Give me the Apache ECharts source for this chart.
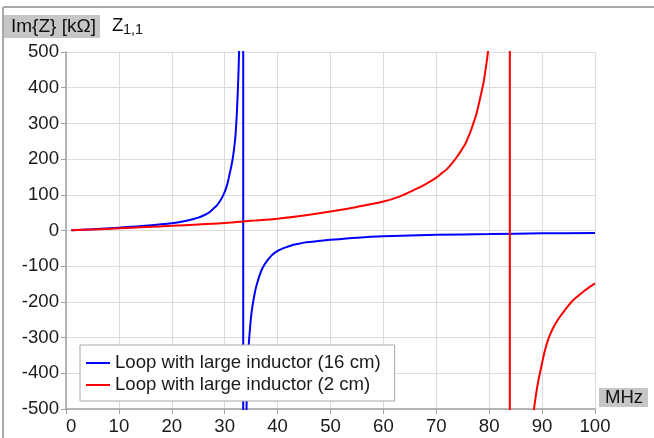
<!DOCTYPE html>
<html>
<head>
<meta charset="utf-8">
<script src="https://cdn.jsdelivr.net/npm/echarts@6/dist/echarts.min.js"></script>
<style>
  html, body { margin: 0; padding: 0; background: #fff; }
  #main { width: 654px; height: 438px; }
</style>
</head>
<body>
<div id="main"></div>
<script>
var FONT = "'Liberation Sans', Arial, sans-serif";
var FS = 18.6;

// 16 cm loop, below and above its resonance
var blueLowMHz = [1, 5, 10, 15, 20, 23, 25, 26, 27, 27.5, 28, 28.5, 29, 29.5, 30, 30.25, 30.5, 30.75, 31, 31.25, 31.5, 31.75, 32, 32.15, 32.3, 32.45, 32.6, 32.7, 32.8, 32.95, 33.1];
var blueLowIm = [0.5, 3.5, 8, 13, 20, 28, 36, 42, 50, 56, 63, 70, 80, 92, 108, 118, 130, 146, 163, 180, 200, 226, 260, 290, 330, 380, 440, 490, 545, 650, 900];
var blueHighMHz = [33.8, 34.1, 34.3, 34.5, 34.75, 35, 35.25, 35.5, 35.75, 36, 36.5, 37, 37.5, 38, 38.5, 39, 39.5, 40, 41, 42, 43, 44, 45, 46, 48, 50, 55, 60, 70, 80, 90, 100];
var blueHighIm = [-1000, -520, -400, -330, -280, -240, -212, -190, -170, -155, -130, -110, -96, -85, -76, -68, -62, -57, -50, -45, -40, -37, -34, -32, -29, -26, -20, -16, -12, -10, -8, -7];
var blueResMHz = 33.5;

// 2 cm loop, below and above its resonance
var redLowMHz = [1, 5, 10, 15, 20, 25, 30, 35, 40, 45, 50, 55, 60, 63, 66, 68, 70, 71, 72, 73, 74, 74.75, 75.5, 76, 76.5, 77, 77.5, 78, 78.5, 79, 79.3, 79.55, 79.8, 80.3];
var redLowIm = [0.5, 3, 6, 9.5, 13, 17, 21, 27, 33, 42, 53, 66, 81, 95, 115, 130, 148, 160, 172, 189, 208, 225, 243, 260, 278, 300, 322, 352, 385, 420, 450, 475, 505, 580];
var redHighMHz = [88, 88.25, 88.5, 88.75, 89, 89.3, 89.6, 89.9, 90.3, 90.65, 91, 91.5, 92, 92.7, 93.4, 94.2, 95, 95.5, 96, 97, 98, 99, 100];
var redHighIm = [-580, -538, -497, -470, -445, -420, -399, -378, -350, -330, -312, -292, -275, -257, -241, -225, -210, -201, -193, -181, -169, -158, -148];
var redResMHz = 83.9;

var seriesNames = ['Loop with large inductor (16 cm)', 'Loop with large inductor (2 cm)'];
var seriesColors = ['#0000ff', '#ff0000'];

function pairs(xs, ys) {
    var out = [];
    for (var i = 0; i < xs.length; i++) out.push([xs[i], ys[i]]);
    return out;
}

function branch(idx, data, smooth) {
    return {
        name: seriesNames[idx], type: 'line', symbol: 'none', clip: true,
        smooth: smooth ? 0.3 : false,
        color: seriesColors[idx], lineStyle: { color: seriesColors[idx], width: 2 },
        data: data
    };
}

var chart = echarts.init(document.getElementById('main'), null, { renderer: 'canvas' });
chart.setOption({
    animation: false,
    textStyle: { fontFamily: FONT },
    grid: { left: 66, top: 52, right: 59, bottom: 29 },
    xAxis: {
        type: 'value',
        min: 0, max: 100, interval: 10,
        axisLine: { show: true, onZero: false, lineStyle: { color: '#a0a0a0', width: 1.5 } },
        axisTick: { show: true, length: 5, lineStyle: { color: '#a0a0a0' } },
        axisLabel: { fontSize: FS, color: '#1a1a1a', fontFamily: FONT, margin: 8, alignMinLabel: 'left' },
        splitLine: { show: true, lineStyle: { color: '#dcdcdc', width: 1 } }
    },
    yAxis: {
        type: 'value',
        min: -500, max: 500, interval: 100,
        axisLine: { show: true, onZero: false, lineStyle: { color: '#a0a0a0', width: 1.5 } },
        axisTick: { show: true, length: 5, lineStyle: { color: '#a0a0a0' } },
        axisLabel: { fontSize: FS, color: '#1a1a1a', fontFamily: FONT, margin: 7 },
        splitLine: { show: true, lineStyle: { color: '#dcdcdc', width: 1 } }
    },
    legend: {
        orient: 'vertical',
        left: 80, top: 345,
        padding: [7, 14, 5, 6],
        itemGap: 0,
        itemWidth: 24, itemHeight: 2,
        icon: 'rect',
        backgroundColor: '#fff',
        borderColor: '#a8a8a8', borderWidth: 1,
        textStyle: { fontSize: FS, lineHeight: 22, color: '#1a1a1a', fontFamily: FONT },
        data: seriesNames
    },
    series: [
        branch(0, pairs(blueLowMHz, blueLowIm), true),
        branch(0, [[blueResMHz, 60000], [blueResMHz, -60000]], false),
        branch(0, pairs(blueHighMHz, blueHighIm), true),
        branch(1, pairs(redLowMHz, redLowIm), true),
        branch(1, [[redResMHz, 60000], [redResMHz, -60000]], false),
        branch(1, pairs(redHighMHz, redHighIm), true)
    ],
    graphic: [
        { type: 'line', shape: { x1: 3, y1: 7, x2: 654, y2: 7 }, style: { stroke: '#a8a8a8', lineWidth: 2 } },
        { type: 'line', shape: { x1: 3, y1: 7, x2: 3, y2: 438 }, style: { stroke: '#a8a8a8', lineWidth: 2 } },
        { type: 'rect', shape: { x: 4, y: 15, width: 96, height: 23 }, style: { fill: '#c6c6c6' } },
        { type: 'text', x: 11, y: 27, style: { text: 'Im{Z} [kΩ]', font: '19px ' + FONT, fill: '#111', verticalAlign: 'middle' } },
        { type: 'text', x: 112, y: 25.5, style: { text: 'Z', font: '18.6px ' + FONT, fill: '#111', verticalAlign: 'middle' } },
        { type: 'text', x: 123, y: 30, style: { text: '1,1', font: '14.5px ' + FONT, fill: '#111', verticalAlign: 'middle' } },
        { type: 'rect', shape: { x: 599, y: 388, width: 49, height: 19 }, style: { fill: '#c6c6c6' } },
        { type: 'text', x: 624, y: 397.5, style: { text: 'MHz', font: FS + 'px ' + FONT, fill: '#111', align: 'center', verticalAlign: 'middle' } }
    ]
});
</script>
</body>
</html>
